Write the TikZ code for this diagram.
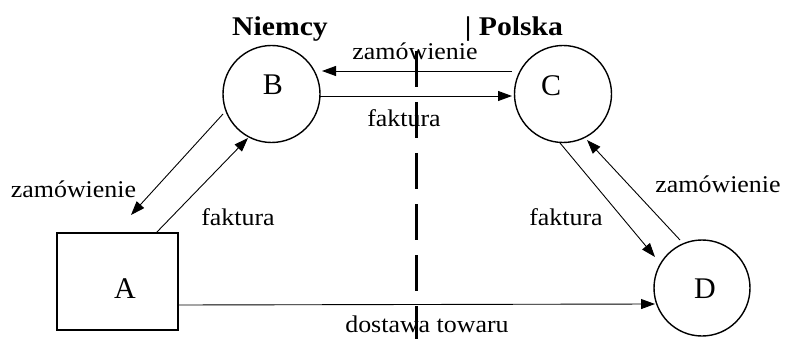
\documentclass[tikz,border=0pt]{standalone}
\usepackage{fontspec}
\setmainfont{Liberation Serif}
\newfontfamily\lblfont[FakeStretch=1.08]{Liberation Serif}
\newfontfamily\hdrfont[FakeStretch=1.1]{Liberation Serif}
\usetikzlibrary{arrows.meta,calc}
\begin{document}
\begin{tikzpicture}[x=1pt,y=-1pt,
  circ/.style={draw,circle,line width=1.4pt,minimum size=97pt,inner sep=0pt},
  boxnode/.style={draw,rectangle,line width=1.4pt,minimum width=121pt,minimum height=97pt,inner sep=0pt},
  letter/.style={anchor=base,inner sep=0pt,font=\fontsize{30pt}{34pt}\selectfont},
  lbl/.style={anchor=base,inner sep=0pt,font=\lblfont\fontsize{24pt}{28pt}\selectfont},
  hdr/.style={anchor=base,inner sep=0pt,font=\hdrfont\bfseries\fontsize{27pt}{30pt}\selectfont},
  flow/.style={line width=0.9pt,-{Triangle[length=14pt,width=10pt]}},
  border/.style={line width=3pt,dash pattern=on 36pt off 15pt}]
\useasboundingbox (0,0) rectangle (786,339);
% shapes
\node[boxnode] (A) at (117.5,281.5) {};
\node[circ] (B) at (271.5,94) {};
\node[circ] (C) at (563,94) {};
\node[circ,minimum size=96pt] (D) at (702,288) {};
% letters
\node[letter] (At) at (125,298) {A};
\node[letter] (Bt) at (273,95) {B};
\node[letter] (Ct) at (551,96) {C};
\node[letter] (Dt) at (705,298) {D};
% headers
\node[hdr] (niem) at (280,36) {Niemcy};
\node[hdr] (pol) at (514,36) {| Polska};
% connectors
\draw[flow] ($(C)+(-51,-23)$) -- ($(B)+(50.5,-23)$);
\draw[flow] ($(B)+(48.5,2)$) -- ($(C)+(-51,2)$);
\draw[flow] ($(B)+(-48.5,20)$) -- ($(A)+(13.5,-66.5)$);
\draw[flow] ($(A)+(38.5,-48.5)$) -- ($(B)+(-23.5,44)$);
\draw[flow] ($(C)+(-3,49)$) -- ($(D)+(-47,-31)$);
\draw[flow] ($(D)+(-22,-48)$) -- ($(C)+(24,46)$);
\draw[flow] ($(A)+(60.5,23.5)$) -- ($(D)+(-47,16)$);
% labels
\node[lbl] (l1) at (415,60) {zamówienie};
\node[lbl] (l2) at (404,127) {faktura};
\node[lbl] (l3) at (73.5,197) {zamówienie};
\node[lbl] (l4) at (238,225) {faktura};
\node[lbl] (l5) at (566,225) {faktura};
\node[lbl] (l6) at (718,192) {zamówienie};
\node[lbl] (l7) at (427,332) {dostawa towaru};
% border line
\coordinate (btop) at (416,51);
\coordinate (bbot) at (416,345);
\draw[border] (btop) -- (bbot);
\end{tikzpicture}
\end{document}
